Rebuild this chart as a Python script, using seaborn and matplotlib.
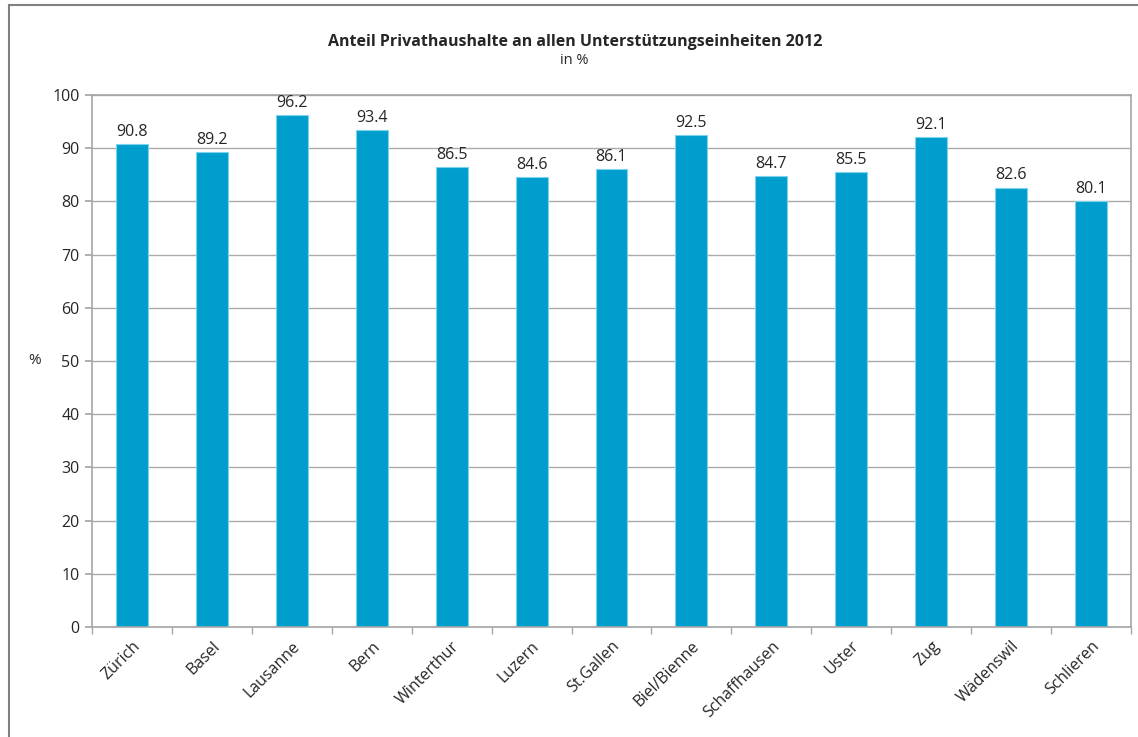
import matplotlib
matplotlib.use("Agg")
import matplotlib.pyplot as plt
import seaborn as sns
import pandas as pd
import numpy as np
from matplotlib.patches import Rectangle

cities = ["Zürich", "Basel", "Lausanne", "Bern", "Winterthur", "Luzern", "St.Gallen",
          "Biel/Bienne", "Schaffhausen", "Uster", "Zug", "Wädenswil", "Schlieren"]
values = [90.8, 89.2, 96.2, 93.4, 86.5, 84.6, 86.1, 92.5, 84.7, 85.5, 92.1, 82.6, 80.1]
yticks = list(range(0, 101, 10))

title = "Anteil Privathaushalte an allen Unterstützungseinheiten 2012"
subtitle = "in %"

sns.set_theme(style="white")
plt.rcParams['font.family'] = ['Open Sans', 'DejaVu Sans']

df = pd.DataFrame({"city": cities, "value": values})

fig = plt.figure(figsize=(11.38, 7.37), dpi=100)
ax = fig.add_axes([92/1138, 1-627/737, (1131-92)/1138, (627-95)/737])

sns.barplot(data=df, x="city", y="value", color="#009ECC", width=0.4,
            edgecolor="#7FD3EE", linewidth=0.8, saturation=1, ax=ax)

ax.set_ylim(0, 100)
ax.set_xlim(-0.5, len(cities) - 0.5)
ax.set_yticks(yticks)
ax.yaxis.grid(True, color="#ABABAB", linewidth=1)
ax.set_axisbelow(True)
for s in ax.spines.values():
    s.set_color("#A6A6A6")
    s.set_linewidth(1.2)
    s.set_visible(True)

ax.set_xlabel("")
ax.set_ylabel("%", rotation=0, fontsize=11, labelpad=13, va="center")
ax.tick_params(axis="y", which="major", direction="out", length=5, color="#A6A6A6",
               labelsize=11.5, pad=4, left=True)
ax.set_xticks(np.arange(len(cities)))
ax.set_xticklabels(cities, rotation=45, ha="right", rotation_mode="anchor", fontsize=11.5)
ax.tick_params(axis="x", which="major", length=0, pad=8)
ax.set_xticks(np.arange(-0.5, len(cities), 1.0), minor=True)
ax.tick_params(axis="x", which="minor", direction="out", length=5, color="#A6A6A6", bottom=True)

for c in ax.containers:
    ax.bar_label(c, fmt="%.1f", padding=3, fontsize=11.5)

fig.text(0.505, 1 - 42/737, title, ha="center", va="center",
         fontsize=11.5, fontweight="bold")
fig.text(0.505, 1 - 61/737, subtitle, ha="center", va="center",
         fontsize=10.5)

fig.patches.append(Rectangle((9/1138, -0.05), 1.2, 1 - 5/737 + 0.05, transform=fig.transFigure,
                             fill=False, edgecolor="#808080", linewidth=1.5, zorder=10))

fig.savefig("out.png", dpi=100)
